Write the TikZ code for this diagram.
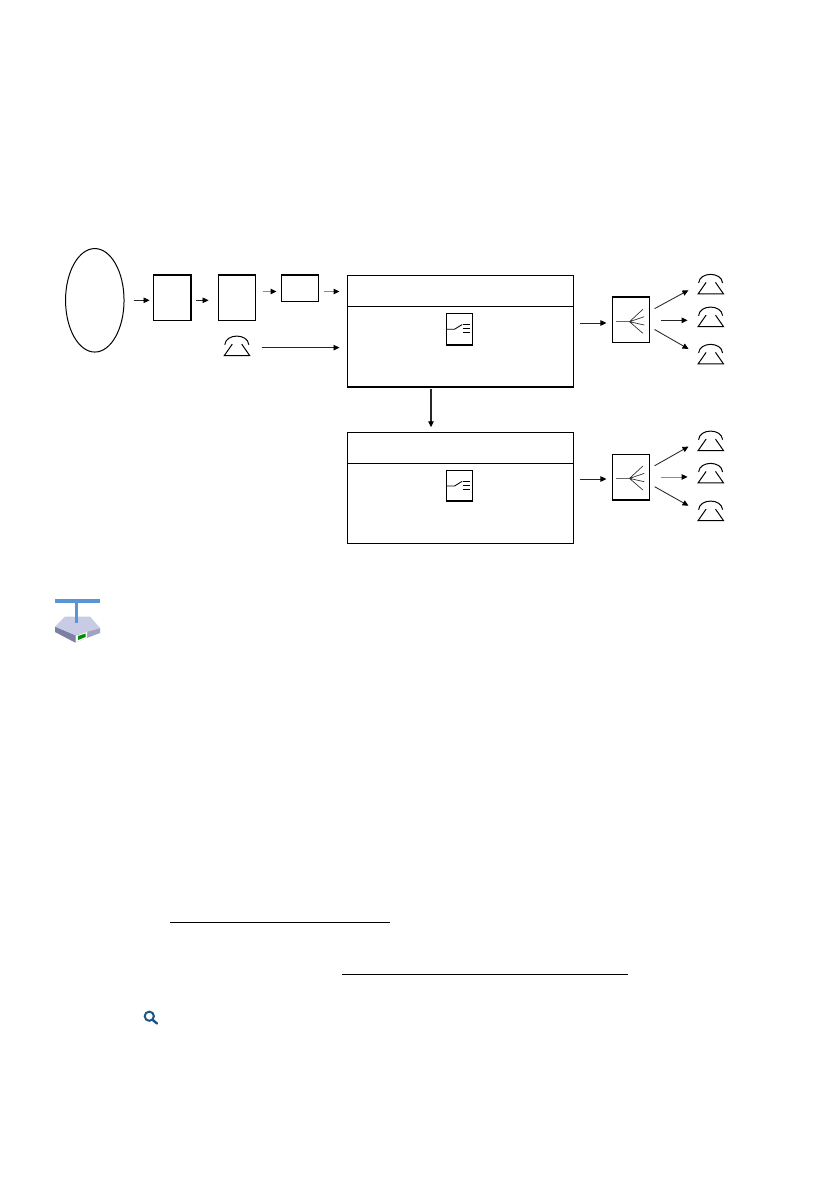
\documentclass[tikz,border=0pt]{standalone}
\usetikzlibrary{arrows.meta,shapes.geometric}
\tikzset{
  every picture/.style={x=1pt,y=-1pt},
  ln/.style={line width=1pt,draw=black},
  boxn/.style={rectangle,draw=black,line width=1pt,inner sep=0pt,minimum width=#1},
  conn/.style={line width=0.85pt,draw=black!85,-{Triangle[length=6pt,width=5.5pt,color=black,fill=black]}},
  gconn/.style={conn,draw=black!45,line width=1.1pt},
  fine/.style={line width=0.7pt,draw=black!80},
  thickedge/.style={line width=2pt,draw=black,line cap=butt}
}
% \phoneat{name}{x}{y top}
\newcommand{\phoneat}[3]{%
  \node[inner sep=0pt,minimum width=25pt,minimum height=19.5pt,anchor=north] (#1) at (#2,#3) {};
  \draw[ln] (#1.north west)++(0.5,9) .. controls +(1,-11.5) and +(-1,-11.5) .. ++(24,0);
  \draw[ln,line join=miter] (#1.south west) ++(8,-11.5) -- (#1.south west) -- (#1.south east) -- ++(-8,-11.5);
}
% \fanat{box}
\newcommand{\fanat}[1]{%
  \coordinate (#1o) at ([xshift=-1.5,yshift=-1.7]#1.center);
  \draw[line width=0.9pt,draw=black!60] ([xshift=-14]#1o) -- (#1o);
  \draw[fine] (#1o) -- ++(13.4,-12.4) (#1o) -- ++(14.7,-5) (#1o) -- ++(14.7,3.3) (#1o) -- ++(13.4,11.6);
}
% \switchat{box}
\newcommand{\switchat}[1]{%
  \coordinate (#1p) at ([xshift=0.4,yshift=15.3]#1.south west);
  \draw[line width=0.85pt] (#1p) -- ++(8.3,0) -- ++(7.7,-4.7);
  \draw[line width=0.85pt] ([xshift=16.6,yshift=4.7]#1p) -- ++(7.7,0)
     ([xshift=16.6,yshift=0.4]#1p) -- ++(7.7,0)
     ([xshift=16.6,yshift=-3.6]#1p) -- ++(7.7,0);
}
\begin{document}
\begin{tikzpicture}
\useasboundingbox (0,0) rectangle (838,1192);
\fill[white] (0,0) rectangle (838,1192);

% source ellipse
\node[ellipse,draw=black,line width=1pt,inner sep=0pt,minimum width=58.5pt,minimum height=103.5pt] (ell) at (94.8,300.3) {};

% small boxes
\node[boxn=36.5pt,minimum height=45pt] (b1) at (171.8,298) {};
\node[boxn=37.5pt,minimum height=45pt] (b2) at (236.8,298) {};
\node[boxn=37pt,minimum height=26pt] (b3) at (300,288.5) {};
\draw[thickedge] (b1.north west) -- (b1.north east) -- (b1.south east);
\draw[thickedge] (b2.north west) -- (b2.north east);
\draw[thickedge] (b3.north west) -- (b3.north east);

% large boxes
\node[boxn=226pt,minimum height=111pt] (m1) at (460.5,330.5) {};
\node[boxn=226pt,minimum height=110.5pt] (m2) at (460.5,488) {};
\coordinate (d1l) at (347.5,306);
\coordinate (d1r) at (573.5,306);
\coordinate (d2l) at (347.5,463.5);
\coordinate (d2r) at (573.5,463.5);
\draw[ln] (d1l) -- (d1r);
\draw[ln] (d2l) -- (d2r);
\draw[thickedge] (m1.south west) -- (m1.south east);

% switches
\node[boxn=26.5pt,minimum height=30.7pt] (s1) at (459.5,328.7) {};
\node[boxn=26.5pt,minimum height=30.7pt] (s2) at (459.5,485.5) {};
\draw[thickedge] (s1.south west) -- (s1.south east);
\draw[thickedge] (s2.south west) -- (s2.south east);
\switchat{s1}
\switchat{s2}

% splitters
\node[boxn=37.5pt,minimum height=44.6pt] (f1) at (631,320) {};
\node[boxn=37.5pt,minimum height=44.6pt] (f2) at (631,476.7) {};
\draw[thickedge] (f1.north west) -- (f1.north east);
\draw[thickedge] (f2.south west) -- (f2.south east);
\fanat{f1}
\fanat{f2}

% phones
\phoneat{p0}{237}{335.7}
\phoneat{p1}{710.8}{274}
\phoneat{p2}{710.8}{306.7}
\phoneat{p3}{710.8}{344}
\phoneat{p4}{710.8}{430.7}
\phoneat{p5}{710.8}{463}
\phoneat{p6}{710.8}{500.7}

% connectors
\coordinate (vx) at (431,0);
\draw[conn,shorten <=9pt,shorten >=3.5pt] (ell.east) -- (ell.east -| b1.west);
\draw[conn,shorten <=5pt,shorten >=9pt] (ell.east -| b1.east) -- (ell.east -| b2.west);
\draw[gconn,shorten <=6.5pt,shorten >=4.5pt] ([yshift=-3]b3.west -| b2.east) -- ([yshift=-3]b3.west);
\draw[gconn,shorten <=4.5pt,shorten >=7.5pt] ([yshift=-3]b3.east) -- ([yshift=-3]b3.east -| m1.west);
\draw[conn,shorten <=12pt,shorten >=7.5pt] ([yshift=-2]p0.east) -- ([yshift=-2]p0.east -| m1.west);
\draw[conn,shorten <=5.5pt,shorten >=5.3pt] ([yshift=-3]f1.west -| m1.east) -- ([yshift=-3]f1.west);
\draw[conn,shorten <=5.5pt,shorten >=5.3pt] ([yshift=-2.3]f2.west -| m2.east) -- ([yshift=-2.3]f2.west);
\draw[conn,line width=1.2pt,shorten <=2pt,shorten >=5pt] (m1.south -| vx) -- (m2.north -| vx);

\draw[conn,shorten <=5pt,shorten >=11pt] ([yshift=9]f1.east) -- ([yshift=-1]p1.west);
\coordinate (t2) at ([yshift=-3.7]f1.east |- p2.west);
\draw[conn,line width=1.1pt,shorten <=10.5pt,shorten >=10.5pt] (t2) -- (t2 -| p2.west);
\draw[conn,shorten <=5pt,shorten >=11pt] ([yshift=-7]f1.east) -- ([yshift=-0.5]p3.west);
\draw[conn,shorten <=5pt,shorten >=11pt] ([yshift=8.5]f2.east) -- ([yshift=-0.5]p4.west);
\coordinate (t5) at ([yshift=-4]f2.east |- p5.west);
\draw[gconn,line width=0.9pt,shorten <=10.5pt,shorten >=10.5pt] (t5) -- (t5 -| p5.west);
\draw[conn,shorten <=5pt,shorten >=11pt] ([yshift=-7.5]f2.east) -- ([yshift=-0.5]p6.west);

% network icon
\definecolor{icblue}{RGB}{90,150,215}
\definecolor{ictop}{RGB}{200,203,228}
\definecolor{icleft}{RGB}{125,128,165}
\definecolor{icright}{RGB}{160,163,195}
\draw[line width=3.8pt,draw=icblue] (55,601.3) -- (100,601.3);
\fill[icleft] (55,626.5) -- (55,632) -- (75,642.5) -- (75,635) -- cycle;
\fill[icright] (75,635) -- (75,642.5) -- (100,633) -- (100,628) -- cycle;
\fill[ictop] (55,626.5) -- (65,616.5) -- (90,616.5) -- (100,628) -- (75,635) -- cycle;
\draw[line width=3.8pt,draw=icblue] (76.5,601.3) -- (76.5,623);
\fill[white] (76,635.5) -- (87,632) -- (87,638) -- (76,642) -- cycle;
\fill[green!55!black] (78,636) -- (85.5,633.5) -- (85.5,637) -- (78,640) -- cycle;

% underlines
\coordinate (u1a) at (170,922.5);
\coordinate (u1b) at (390,922.5);
\coordinate (u2a) at (342,974.5);
\coordinate (u2b) at (628,974.5);
\draw[line width=1pt] (u1a) -- (u1b);
\draw[line width=1pt] (u2a) -- (u2b);

% magnifier
\definecolor{magblue}{RGB}{30,85,135}
\draw[magblue,line width=2pt] (149.3,1016.2) circle (4.6);
\draw[magblue,line width=2.4pt,line cap=round] (152.6,1019.8) -- (157,1023.5);
\end{tikzpicture}
\end{document}
